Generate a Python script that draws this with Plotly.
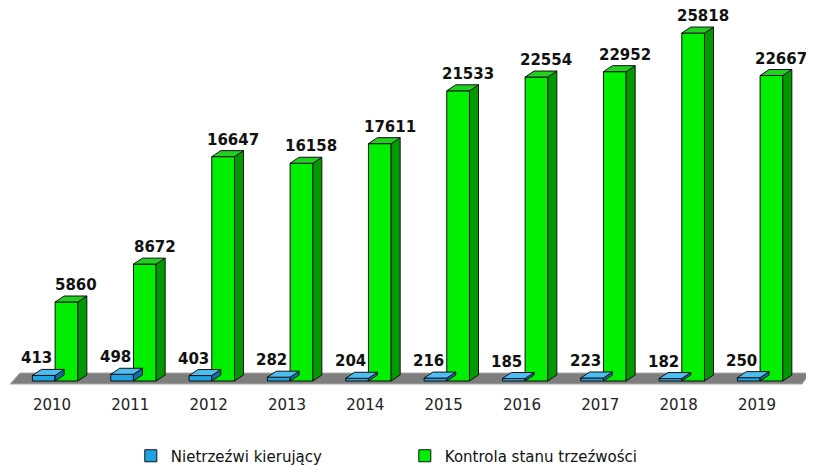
import plotly.graph_objects as go

years = ["2010", "2011", "2012", "2013", "2014", "2015", "2016", "2017", "2018", "2019"]
drunk_drivers = [413, 498, 403, 282, 204, 216, 185, 223, 182, 250]
sobriety_checks = [5860, 8672, 16647, 16158, 17611, 21533, 22554, 22952, 25818, 22667]
series_names = ["Nietrzeźwi kierujący", "Kontrola stanu trzeźwości"]

FONT = "DejaVu Sans"
xs = list(range(len(years)))
W = 0.29          # bar width in x units
SH = 0.04         # shift of the bar pair to the right of the tick
DX = 0.115        # 3D depth in x units
DY = 445          # 3D depth in y units
YMIN, YMAX = -668, 27157
XMIN, XMAX = -0.536, 9.677

# the page body adds an 8px margin, so the figure is laid out 8px smaller
OFF = 8
FIG_W, FIG_H = 814 - OFF, 465 - OFF
L, R, T, B = 10 - OFF, 4, 15 - OFF, 5
PAPER_H = FIG_H - T - B
PLOT_BOTTOM = 390 - OFF
DOM0 = (FIG_H - B - PLOT_BOTTOM) / PAPER_H
LEG_Y = (FIG_H - B - (456 - OFF)) / PAPER_H

series = [
    dict(name=series_names[0], vals=drunk_drivers, off=-W + SH, front="#1fa3e3", side="#0b6fa8", top="#4cbff0", lshift=-7),
    dict(name=series_names[1], vals=sobriety_checks, off=SH, front="#00ee00", side="#009a00", top="#22d022", lshift=10),
]

fig = go.Figure()
shapes = []
annotations = []

# floor (derived from the axis range)
px_y = (YMAX - YMIN) / 375.0
px_x = (XMAX - XMIN) / 800.0
f_front = -3 * px_y
f_back = 8 * px_y
shapes.append(dict(
    type="path", layer="below",
    path=(f"M {XMIN},{f_front} L {XMAX - 8*px_x},{f_front} "
          f"L {XMAX},{f_back} L {XMIN + 10*px_x},{f_back} Z"),
    fillcolor="#7e7e7e", line=dict(color="#a8a8a8", width=1)))

for s in series:
    fig.add_trace(go.Bar(
        x=xs, y=s["vals"], name=s["name"], width=W, offset=s["off"],
        marker=dict(color=s["front"], line=dict(color="#111111", width=1)),
    ))
    for x, v in zip(xs, s["vals"]):
        x0 = x + s["off"]
        x1 = x0 + W
        shapes.append(dict(
            type="path", layer="above",
            path=f"M {x1},0 L {x1},{v} L {x1+DX},{v+DY} L {x1+DX},{DY} Z",
            fillcolor=s["side"], line=dict(color="#111111", width=1)))
        shapes.append(dict(
            type="path", layer="above",
            path=f"M {x0},{v} L {x1},{v} L {x1+DX},{v+DY} L {x0+DX},{v+DY} Z",
            fillcolor=s["top"], line=dict(color="#111111", width=1)))
        annotations.append(dict(
            x=x0 + W / 2, y=v + DY, text=f"<b>{v}</b>", showarrow=False,
            xanchor="center", yanchor="bottom", xshift=s["lshift"], yshift=1,
            borderpad=0,
            font=dict(family=FONT, size=15, color="#111111")))

fig.update_layout(
    width=FIG_W, height=FIG_H,
    margin=dict(l=L, r=R, t=T, b=B, autoexpand=False),
    paper_bgcolor="white", plot_bgcolor="white",
    barmode="overlay",
    shapes=shapes, annotations=annotations,
    xaxis=dict(range=[XMIN, XMAX], tickvals=xs, ticktext=years, showgrid=False,
               zeroline=False, showline=False, ticks="", automargin=False,
               ticklabelstandoff=4,
               tickfont=dict(family=FONT, size=15, color="#222222")),
    yaxis=dict(range=[YMIN, YMAX], visible=False, showgrid=False, zeroline=False,
               domain=[DOM0, 1], automargin=False),
    legend=dict(orientation="h", x=0.151, xanchor="left",
                y=LEG_Y, yanchor="middle",
                font=dict(family=FONT, size=15, color="#111111"),
                entrywidth=229, entrywidthmode="pixels", itemwidth=30,
                traceorder="normal"),
    showlegend=True,
)

fig.write_html("out.html")
